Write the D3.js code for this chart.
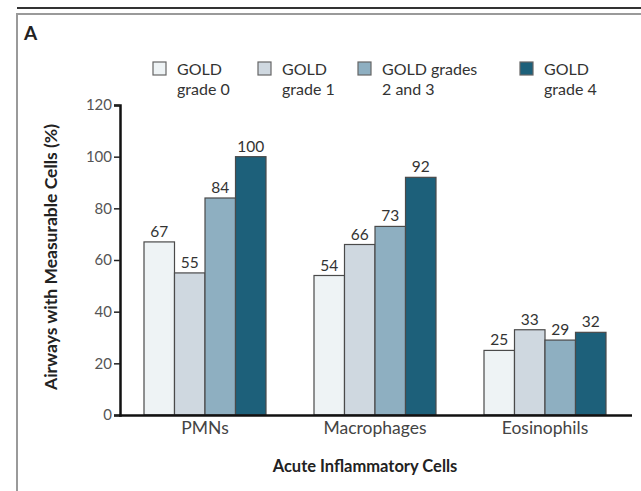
<!DOCTYPE html>
<html><head><meta charset="utf-8">
<script src="https://cdn.jsdelivr.net/npm/d3@7"></script>
<style>body{margin:0;background:#fff;} text{font-family:Lato,"Open Sans",sans-serif;}</style>
</head><body>
<svg id="c" width="641" height="491"></svg>
<script>
const categories = ["PMNs", "Macrophages", "Eosinophils"];
const seriesNames = ["GOLD grade 0", "GOLD grade 1", "GOLD grades 2 and 3", "GOLD grade 4"];
const legendLine1 = ["GOLD", "GOLD", "GOLD grades", "GOLD"];
const legendLine2 = ["grade 0", "grade 1", "2 and 3", "grade 4"];
const grade0 = [67, 54, 25];
const grade1 = [55, 66, 33];
const grade23 = [84, 73, 29];
const grade4 = [100, 92, 32];
const yTicks = [0, 20, 40, 60, 80, 100, 120];
const colors = ["#eef3f5", "#cfd8e0", "#8eafc1", "#1d607a"];

const seriesValues = [grade0, grade1, grade23, grade4];
const svg = d3.select("#c");

// frame
svg.append("line").attr("x1", 17).attr("x2", 641).attr("y1", 8).attr("y2", 8).attr("stroke", "#333").attr("stroke-width", 2);
svg.append("path").attr("d", "M17,491 V14 H641").attr("fill", "none").attr("stroke", "#9a9a9a").attr("stroke-width", 2);
svg.append("text").attr("x", 24).attr("y", 40).attr("font-size", 19).attr("font-weight", "bold").attr("fill", "#222").text("A");

const x0 = d3.scaleBand().domain(categories).range([120, 630]).padding(0);
const groupW = 122;
const x1 = d3.scaleBand().domain(seriesNames).range([0, groupW]).padding(0);
const y = d3.scaleLinear().domain([0, 120]).range([415, 105]);

// y axis
const yAxis = svg.append("g").attr("transform", "translate(120,0)")
  .call(d3.axisLeft(y).tickValues(yTicks).tickSize(6).tickPadding(2));
yAxis.select(".domain").attr("stroke", "#111").attr("stroke-width", 2.5);
yAxis.selectAll(".tick line").attr("stroke", "#222").attr("stroke-width", 1.5);
yAxis.selectAll(".tick text").attr("font-size", 15).attr("fill", "#555").attr("font-family", "Lato, sans-serif");

// bars
categories.forEach((cat, ci) => {
  const gx = x0(cat) + (x0.bandwidth() - groupW) / 2;
  seriesNames.forEach((s, si) => {
    const v = seriesValues[si][ci];
    svg.append("rect")
      .attr("x", gx + x1(s)).attr("y", y(v))
      .attr("width", x1.bandwidth()).attr("height", y(0) - y(v))
      .attr("fill", colors[si]).attr("stroke", "#4a4a4a").attr("stroke-width", 1.2);
    svg.append("text")
      .attr("x", gx + x1(s) + x1.bandwidth() / 2).attr("y", y(v) - 5)
      .attr("text-anchor", "middle").attr("font-size", 15.5).attr("fill", "#333")
      .text(v);
  });
});

// x axis
const xAxis = svg.append("g").attr("transform", "translate(0,415)")
  .call(d3.axisBottom(x0).tickSize(0).tickPadding(8));
xAxis.select(".domain").attr("d", "M119,0.5H632").attr("stroke", "#111").attr("stroke-width", 2.5);
xAxis.selectAll(".tick text").attr("font-size", 17.5).attr("fill", "#444").attr("font-family", "Lato, sans-serif").attr("dy", "0.6em");

// axis titles
svg.append("text").attr("x", 365).attr("y", 472).attr("text-anchor", "middle")
  .attr("font-size", 16.5).attr("font-weight", "bold").attr("fill", "#222").text("Acute Inflammatory Cells");
svg.append("text").attr("transform", "translate(57,257) rotate(-90)").attr("text-anchor", "middle")
  .attr("font-size", 17.5).attr("font-weight", "bold").attr("fill", "#222").text("Airways with Measurable Cells (%)");

// legend
const legendX = [153, 258, 358, 520];
seriesNames.forEach((s, i) => {
  const g = svg.append("g").attr("transform", `translate(${legendX[i]},62)`);
  g.append("rect").attr("x", 0).attr("y", 0).attr("width", 13).attr("height", 13)
    .attr("fill", colors[i]).attr("stroke", "#666").attr("stroke-width", 1.2);
  g.append("text").attr("x", 24).attr("y", 13).attr("font-size", 16).attr("fill", "#333").text(legendLine1[i]);
  g.append("text").attr("x", 24).attr("y", 33).attr("font-size", 16).attr("fill", "#333").text(legendLine2[i]);
});
</script>
</body></html>
